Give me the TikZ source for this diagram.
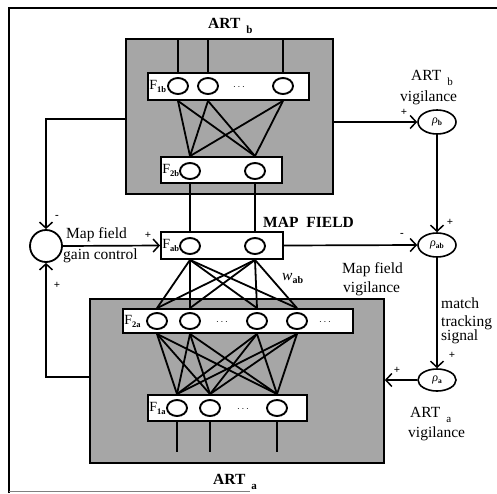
\documentclass[tikz,border=0pt]{standalone}
\usepackage{fontspec}
\setmainfont{Liberation Serif}
\usetikzlibrary{arrows.meta,shapes.geometric,calc}
\newcommand{\lowsub}[2]{#1\hspace{6pt}\raisebox{-5pt}{\fontsize{11}{11}\selectfont #2}}
\newcommand{\flab}[1]{F\raisebox{-3pt}{\fontsize{8.5}{8.5}\selectfont\bfseries #1}}
\newcommand{\rholab}[1]{\textit{ρ}\raisebox{-2pt}{\fontsize{7.5}{7.5}\selectfont\bfseries #1}}
\begin{document}
\begin{tikzpicture}[x=1pt,y=-1pt,
  shadebox/.style={draw,line width=1.6pt,fill=black!35,inner sep=0pt},
  layer/.style={draw,line width=1.8pt,fill=white,inner sep=0pt},
  cell/.style={ellipse,draw,line width=1.9pt,fill=white,minimum width=20pt,minimum height=16pt,inner sep=0pt},
  vig/.style={ellipse,draw,line width=1.6pt,fill=white,minimum width=38pt,minimum height=24pt,inner sep=0pt},
  conn/.style={line width=1.8pt},
  arr/.style={line width=1.7pt,-{Straight Barb[length=6pt,width=13pt,line width=1.5pt]}},
  lbl/.style={inner sep=0pt,anchor=base west,font=\fontsize{15.5}{17}\selectfont},
  blbl/.style={inner sep=0pt,anchor=base west,font=\fontsize{15.5}{17}\selectfont\bfseries},
  sgn/.style={inner sep=0pt,font=\fontsize{11}{11}\selectfont\bfseries},
  flbl/.style={inner sep=0pt,anchor=west,font=\fontsize{14}{14}\selectfont},
  dots/.style={inner sep=0pt,font=\fontsize{10}{10}\selectfont}
]
\useasboundingbox (0,0) rectangle (497,493);
% frame
\draw[line width=2.5pt] (9,493) -- (9,8) -- (497,8);
\draw[line width=1pt,black!50] (9,491) -- (250,491);

% ART boxes
\node[shadebox,minimum width=207pt,minimum height=155pt] (ARTb) at (229.5,116.5) {};
\node[shadebox,minimum width=294pt,minimum height=164pt] (ARTa) at (237,381) {};

% layers
\node[layer,minimum width=161pt,minimum height=27pt] (F1b) at (228.5,86.5) {};
\node[layer,minimum width=121pt,minimum height=26pt] (F2b) at (221.5,170) {};
\node[layer,minimum width=122pt,minimum height=27pt] (Fab) at (222,245.5) {};
\node[layer,minimum width=230pt,minimum height=24pt] (F2a) at (238,321) {};
\node[layer,minimum width=159pt,minimum height=26pt] (F1a) at (227.5,408) {};

% layer labels
\node[flbl] (lF1b) at ([xshift=2pt]F1b.west) {\flab{1b}};
\node[flbl] (lF2b) at ([xshift=2pt]F2b.west) {\flab{2b}};
\node[flbl] (lFab) at ([xshift=2pt]Fab.west) {\flab{ab}};
\node[flbl] (lF2a) at ([xshift=2pt]F2a.west) {\flab{2a}};
\node[flbl] (lF1a) at ([xshift=2pt]F1a.west) {\flab{1a}};

% cells
\node[cell] (b11) at (178,86) {};
\node[cell] (b12) at (208,86) {};
\node[cell] (b13) at (283,86) {};
\node[dots] (db1) at (239,87) {$\cdots$};
\node[cell] (b21) at (190,171) {};
\node[cell] (b22) at (255,171) {};
\node[cell] (ab1) at (190,246) {};
\node[cell] (ab2) at (255,246) {};
\node[cell] (a21) at (157,321) {};
\node[cell] (a22) at (190,321) {};
\node[cell] (a23) at (257,321) {};
\node[cell] (a24) at (297,321) {};
\node[dots] (da21) at (222,322) {$\cdots$};
\node[dots] (da22) at (325,322) {$\cdots$};
\node[cell] (a11) at (177,408) {};
\node[cell] (a12) at (210,408) {};
\node[cell] (a13) at (277,408) {};
\node[dots] (da1) at (243,409) {$\cdots$};

% inputs
\foreach \c in {b11,b12,b13} \draw[conn] (\c |- F1b.north) -- (\c |- ARTb.north);
\coordinate (inbot) at (0,452);
\foreach \c in {a11,a12,a13} \draw[conn] (\c |- F1a.south) -- (\c |- inbot);

% F1b -> F2b
\foreach \i in {b11,b12,b13} \foreach \j in {b21,b22}
  \draw[conn] (\i |- F1b.south) -- (\j |- F2b.north);
% F2b -> Fab
\draw[conn] (b21 |- F2b.south) -- (ab1 |- Fab.north);
\draw[conn] (b22 |- F2b.south) -- (ab2 |- Fab.north);
% Fab -> F2a
\foreach \i in {ab1,ab2} \foreach \j in {a21,a22,a23,a24}
  \draw[conn] (\i |- Fab.south) -- (\j |- F2a.north);
% F2a -> F1a
\foreach \i in {a21,a22,a23,a24} \foreach \j in {a11,a12,a13}
  \draw[conn] (\i |- F2a.south) -- (\j |- F1a.north);

% gain control
\node[circle,draw,line width=1.8pt,minimum size=32pt,inner sep=0pt] (g) at (46,246) {};
\draw[arr] ([yshift=-2.5pt]ARTb.west) -| (g.north);
\draw[arr] ([yshift=4pt]ARTa.west) -| (g.south);
\draw[arr] (g.east) -- (Fab.west);

% vigilance nodes
\node[vig] (rhob) at (437,122) {\fontsize{12}{12}\selectfont\rholab{b}};
\node[vig] (rhoab) at (437,245) {\fontsize{12}{12}\selectfont\rholab{ab}};
\node[vig,minimum height=22pt] (rhoa) at (437,380) {\fontsize{12}{12}\selectfont\rholab{a}};

\draw[arr] (rhob.west -| ARTb.east) -- (rhob.west);
\draw[arr] (rhob.south) -- (rhoab.north);
\draw[arr] (Fab.east) -- (rhoab.west);
\draw[arr] (rhoab.south) -- (rhoa.north);
\draw[arr] (rhoa.west) -- (rhoa.west -| ARTa.east);

% signs
\node[sgn] (s1) at (57,217) {-};
\node[sgn] (s2) at (57,285) {+};
\node[sgn] (s3) at (148,235) {+};
\node[sgn] (s4) at (404,112) {+};
\node[sgn] (s5) at (450,222) {+};
\node[sgn] (s6) at (402,235) {-};
\node[sgn] (s7) at (452,355) {+};
\node[sgn] (s8) at (397,370) {+};

% texts
\node[blbl] (tARTb) at (208,28) {\lowsub{ART}{b}};
\node[blbl] (tARTa) at (213,484) {\lowsub{ART}{a}};
\node[blbl] (tmap) at (263,227) {MAP\hspace{8pt}FIELD};
\node[lbl] (tg1) at (66,238) {Map field};
\node[lbl] (tg2) at (63,259) {gain control};
\node[lbl] (tw) at (282,280) {\textit{w}\raisebox{-3pt}{\fontsize{10}{10}\selectfont\bfseries ab}};
\node[lbl] (tvb1) at (411,80) {\lowsub{ART}{b}};
\node[lbl] (tvb2) at (400,101) {vigilance};
\node[lbl] (tvm1) at (342,273) {Map field};
\node[lbl] (tvm2) at (343,292) {vigilance};
\node[lbl] (tm1) at (441,308) {match};
\node[lbl] (tm2) at (441,326) {tracking};
\node[lbl] (tm3) at (441,340) {signal};
\node[lbl] (tva1) at (410,417) {\lowsub{ART}{a}};
\node[lbl] (tva2) at (408,437) {vigilance};
\end{tikzpicture}
\end{document}
